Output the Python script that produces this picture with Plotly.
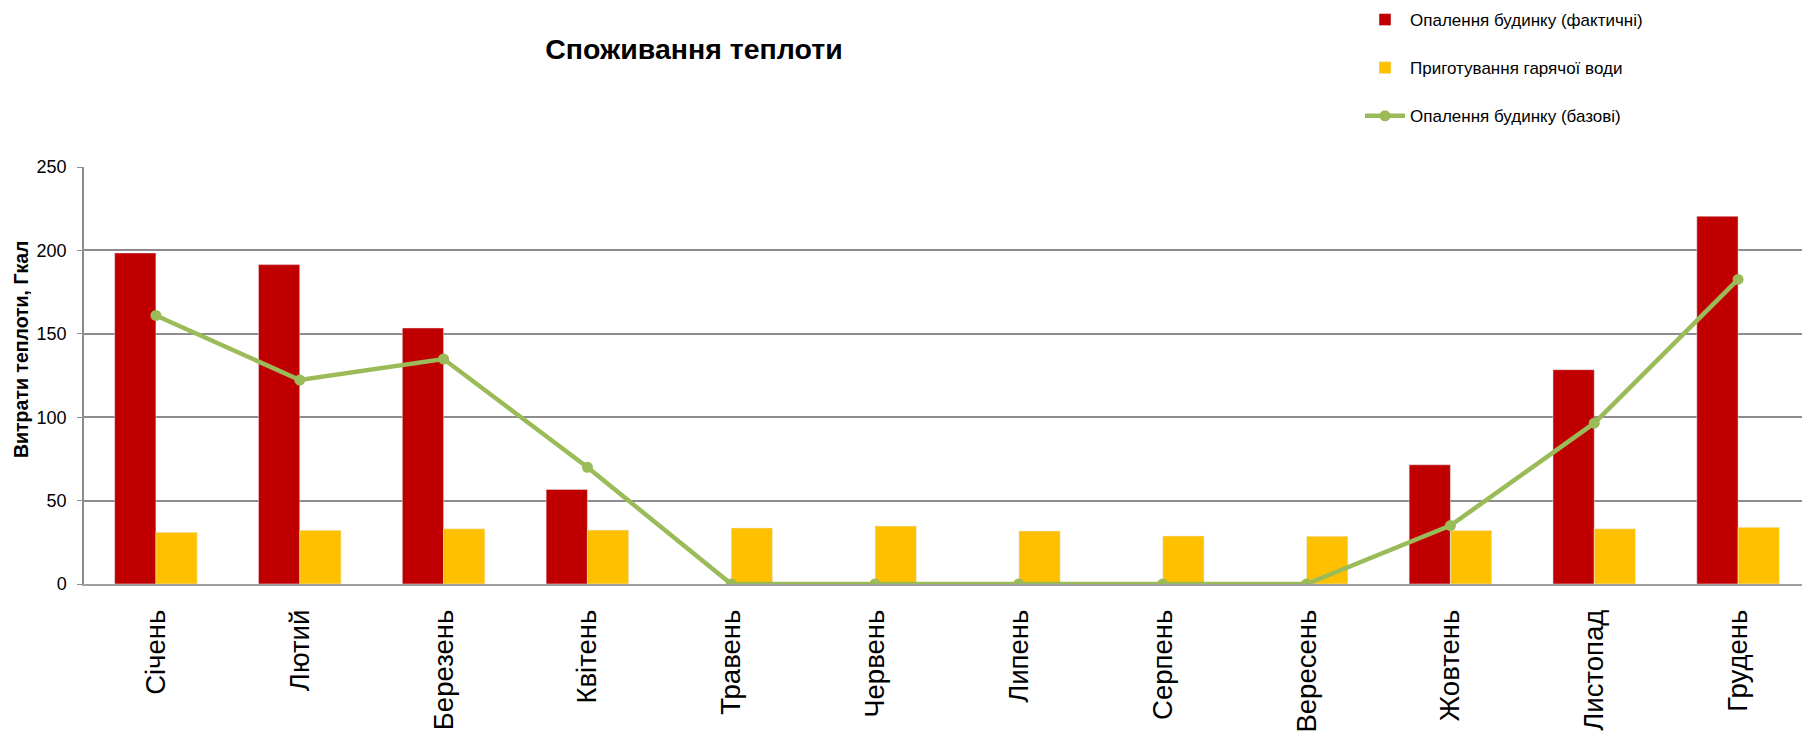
import plotly.graph_objects as go

months = ["Січень", "Лютий", "Березень", "Квітень", "Травень", "Червень",
          "Липень", "Серпень", "Вересень", "Жовтень", "Листопад", "Грудень"]
heating_actual = [198.5, 191.5, 153.5, 56.7, None, None, None, None, None, 71.5, 128.5, 220.5]
hot_water = [31, 32.2, 33.1, 32.3, 33.6, 34.7, 31.8, 28.8, 28.7, 32.1, 33.1, 34]
heating_base = [161, 122.3, 134.9, 70, 0, 0, 0, 0, 0, 35, 96.4, 182.6]
y_ticks = [0, 50, 100, 150, 200, 250]

SANS = "Liberation Sans, Arial, sans-serif"

# page body has an 8px margin, so the figure is drawn 8px in from the window edge
W, H = 1802, 729
L, T, B = 76, 159, 153
PW, PH = W - L, H - T - B

fig = go.Figure()
fig.add_trace(go.Bar(x=months, y=heating_actual, name="Опалення будинку (фактичні)",
                     marker=dict(color="#C00000"), legendgroup="a"))
fig.add_trace(go.Bar(x=months, y=hot_water, name="Приготування гарячої води",
                     marker=dict(color="#FFC000"), legendgroup="b"))
fig.add_trace(go.Scatter(x=months, y=heating_base, name="Опалення будинку (базові)",
                         mode="lines+markers", legendgroup="c",
                         line=dict(color="#9BBB59", width=4.5),
                         marker=dict(color="#9BBB59", size=11)))

fig.update_layout(
    width=W, height=H,
    margin=dict(l=L, r=0, t=T, b=B, autoexpand=False),
    paper_bgcolor="white", plot_bgcolor="white",
    barmode="group", bargap=0.426, bargroupgap=0,
    title=dict(text="<b>Споживання теплоти</b>", x=686 / W, xanchor="center",
               xref="container", yref="container",
               y=1 - 41 / H, yanchor="middle",
               font=dict(family=SANS, size=28.5, color="black")),
    legend=dict(xref="paper", yref="paper",
                x=(1352 - L) / PW, xanchor="left",
                y=(T + PH + 6) / PH, yanchor="top",
                traceorder="grouped", tracegroupgap=23,
                font=dict(family=SANS, size=17, color="black"),
                itemwidth=40, bgcolor="rgba(0,0,0,0)"),
    showlegend=True,
)
fig.update_xaxes(range=[-0.5, len(months) - 0.5],
                 tickangle=-90, tickfont=dict(family=SANS, size=27.5, color="black"),
                 showgrid=False, showline=True, linecolor="#A0A0A0", linewidth=1.5,
                 ticks="", ticklabelstandoff=13)
fig.update_yaxes(range=[0, 250], tickvals=y_ticks, showgrid=True,
                 gridcolor="#8C8C8C", gridwidth=1.5, zeroline=False,
                 showline=True, linecolor="#8C8C8C", linewidth=1.5,
                 ticks="outside", ticklen=5, tickcolor="#8C8C8C",
                 ticklabelstandoff=7,
                 tickfont=dict(family=SANS, size=18, color="black"))
fig.add_annotation(text="<b>Витрати теплоти, Гкал</b>", textangle=-90,
                   xref="paper", yref="paper", x=-63 / PW, y=(T + PH - 342) / PH,
                   xanchor="center", yanchor="middle", showarrow=False,
                   font=dict(family=SANS, size=19.5, color="black"))

fig.write_html("out.html")
